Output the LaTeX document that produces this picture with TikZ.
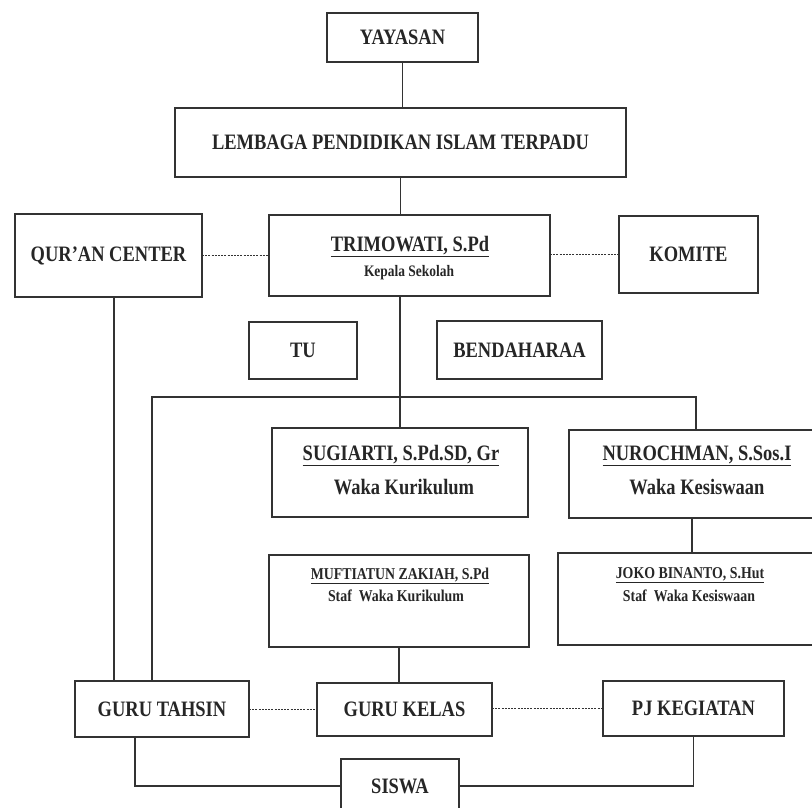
\documentclass[tikz,border=0pt]{standalone}
\usepackage{fontspec}
\setmainfont{Liberation Serif}[FakeStretch=0.84]
\begin{document}
\begin{tikzpicture}[x=1pt,y=-1pt,
  orgbox/.style={draw=black!80, line width=1.6pt, inner sep=0pt, outer sep=0pt, text=black!85, font=\bfseries\fontsize{22}{24}\selectfont},
  link/.style={draw=black!80, line width=1.5pt},
  dotlink/.style={draw=black!80, line width=1.5pt, dash pattern=on 2pt off 1.2pt},
  bigtxt/.style={anchor=base, inner sep=0pt, text=black!85, font=\bfseries\fontsize{22}{24}\selectfont},
  smalltxt/.style={anchor=base, inner sep=0pt, text=black!85, font=\bfseries\fontsize{16.5}{18}\selectfont}]
\useasboundingbox (0,0) rectangle (812,808);
\clip (0,0) rectangle (812,808);
\fill[white] (0,0) rectangle (812,808);

% boxes
\node[orgbox, minimum width=151pt, minimum height=49pt] (yay) at (402.5,37.5) {YAYASAN};
\node[orgbox, minimum width=451pt, minimum height=69pt] (lem) at (400.5,142.5) {LEMBAGA PENDIDIKAN ISLAM TERPADU};
\node[orgbox, minimum width=187pt, minimum height=83pt] (quran) at (108.5,255.5) {QUR'AN CENTER};
\node[orgbox, minimum width=281pt, minimum height=81pt] (kep) at (409.5,255.5) {};
\node[orgbox, minimum width=139pt, minimum height=77pt] (kom) at (688.5,254.5) {KOMITE};
\node[orgbox, minimum width=108pt, minimum height=57pt] (tu) at (303,350.5) {TU};
\node[orgbox, minimum width=165pt, minimum height=58pt] (ben) at (519.5,350) {BENDAHARAA};
\node[orgbox, minimum width=256pt, minimum height=89pt] (sug) at (400,472.5) {};
\node[orgbox, minimum width=261pt, minimum height=88pt] (nur) at (699.5,474) {};
\node[orgbox, minimum width=260pt, minimum height=92pt] (muf) at (399,601) {};
\node[orgbox, minimum width=272pt, minimum height=92pt] (joko) at (694,599) {};
\node[orgbox, minimum width=174pt, minimum height=56pt] (gt) at (162,709) {GURU TAHSIN};
\node[orgbox, minimum width=175pt, minimum height=53pt] (gk) at (404.5,709.5) {GURU KELAS};
\node[orgbox, minimum width=181pt, minimum height=55pt] (pj) at (693.5,708.5) {PJ KEGIATAN};
\node[orgbox, minimum width=118pt, minimum height=54pt] (siswa) at (400,786) {SISWA};

% texts inside two-line boxes
\node[bigtxt] (kepname) at (410,251) {\underline{TRIMOWATI, S.Pd}};
\node[smalltxt, font=\bfseries\fontsize{16}{18}\selectfont] (kepsub) at (409,276) {Kepala Sekolah};
\node[bigtxt] (sugname) at (401,460) {\underline{SUGIARTI, S.Pd.SD, Gr}};
\node[bigtxt] (sugsub) at (404,494) {Waka Kurikulum};
\node[bigtxt] (nurname) at (697,460) {\underline{NUROCHMAN, S.Sos.I}};
\node[bigtxt] (nursub) at (697,494) {Waka Kesiswaan};
\node[smalltxt] (mufname) at (400,579) {\underline{MUFTIATUN ZAKIAH, S.Pd}};
\node[smalltxt] (mufsub) at (396,601) {Staf\ \ Waka Kurikulum};
\node[smalltxt] (jokoname) at (690,578) {\underline{JOKO BINANTO, S.Hut}};
\node[smalltxt] (jokosub) at (689,601) {Staf\ \ Waka Kesiswaan};

% connectors
\coordinate (busL) at (152,397);
\coordinate (busR) at (696,397);
\draw[link] (yay.south) -- (yay.south |- lem.north);
\draw[link] (lem.south) -- (lem.south |- kep.north);
\draw[link] (sug.north |- kep.south) -- (sug.north);
\draw[link] (gt.north -| busL) -- (busL) -- (busR) -- (busR |- nur.north);
\draw[link] ([xshift=5.5pt]quran.south) -- ([xshift=5.5pt]quran.south |- gt.north);
\draw[link] ([xshift=-7.5pt]nur.south) -- ([xshift=-7.5pt]nur.south |- joko.north);
\draw[link] (muf.south) -- (muf.south |- gk.north);
\draw[link] ([xshift=-27pt]gt.south) |- (siswa.west);
\draw[link] (pj.south) |- (siswa.east);

\draw[dotlink] (quran.east) -- (quran.east -| kep.west);
\draw[dotlink] (kep.east |- kom.west) -- (kom.west);
\draw[dotlink] (gt.east |- gk.west) -- (gk.west);
\draw[dotlink] (gk.east |- pj.west) -- (pj.west);
\end{tikzpicture}
\end{document}
